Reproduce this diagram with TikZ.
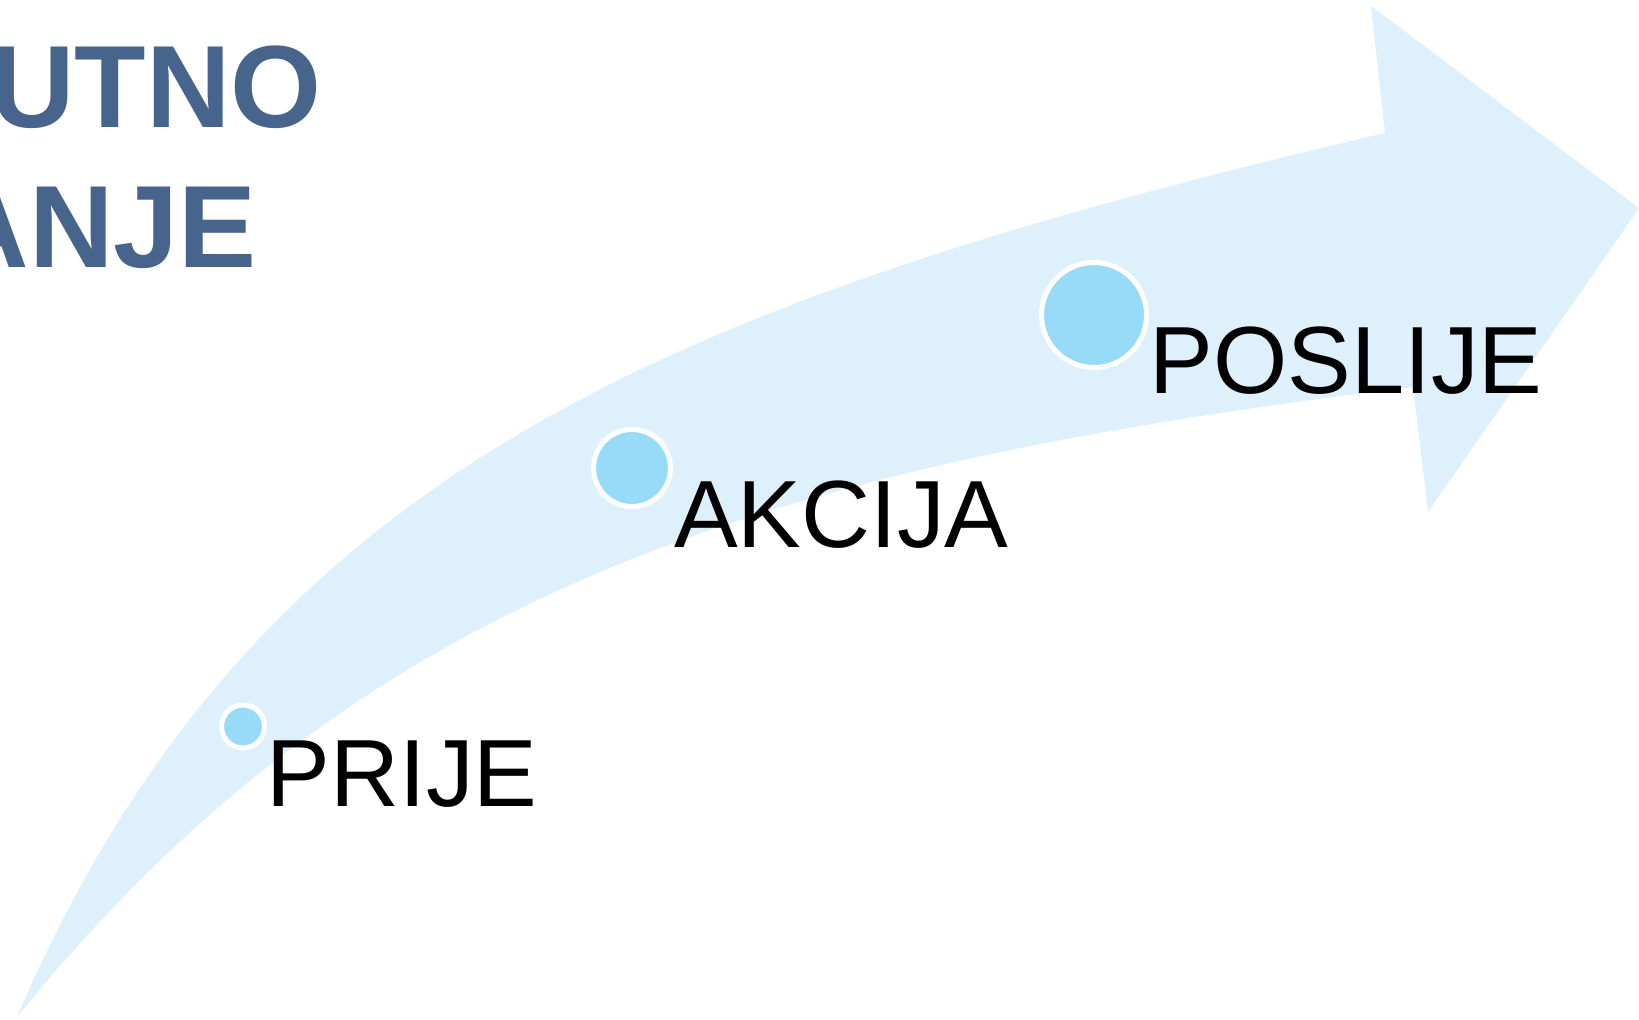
\documentclass[tikz,border=0pt]{standalone}
\usepackage{fontspec}
\setmainfont{Liberation Sans}
\definecolor{arrowfill}{HTML}{DEF0FB}
\definecolor{dotfill}{HTML}{97DBF9}
\definecolor{titleblue}{HTML}{46648C}
\tikzset{
  dot/.style={circle, fill=dotfill, draw=white, line width=5pt, inner sep=0pt},
  lbl/.style={anchor=base west, inner sep=0pt, text=black, font=\fontsize{95.5}{110}\selectfont},
  ttl/.style={anchor=base east, inner sep=0pt, text=titleblue, font=\bfseries\fontsize{117}{130}\selectfont}
}
\begin{document}
\begin{tikzpicture}[x=1pt, y=-1pt]
\clip (0,0) rectangle (1639,1020);
\fill[white] (0,0) rectangle (1639,1020);
% curved arrow
\fill[arrowfill]
  (17,1017) .. controls (250,475) and (660,303) .. (1385,133)
  -- (1371,6) -- (1639,208) -- (1428,512) -- (1413,387)
  .. controls (770,465) and (364,588) .. (17,1017)
  -- cycle;
% title
\node[ttl] (t1) at (322,127) {UTNO};
\node[ttl] (t2) at (257,267) {ANJE};
% dots
\node[dot, minimum size=43pt] (d1) at (243,726.5) {};
\node[dot, minimum size=77pt] (d2) at (632,468) {};
\node[dot, minimum size=105pt] (d3) at (1094,315) {};
% labels
\node[lbl] (l1) at (266.6,806) {PRIJE};
\node[lbl] (l2) at (674,547) {AKCIJA};
\node[lbl] (l3) at (1149.6,393) {POSLIJE};
\end{tikzpicture}
\end{document}
